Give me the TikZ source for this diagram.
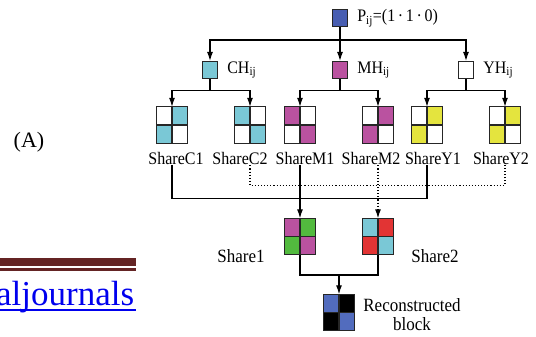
\documentclass[tikz,border=0pt]{standalone}
\usepackage{fontspec}
\setmainfont{Liberation Serif}
\usepackage{graphicx}
\usepackage{tikz}
\usetikzlibrary{arrows.meta,positioning}

\definecolor{cyanc}{RGB}{122,200,214}
\definecolor{magc}{RGB}{186,82,160}
\definecolor{yelc}{RGB}{228,228,62}
\definecolor{grnc}{RGB}{82,186,62}
\definecolor{redc}{RGB}{226,52,52}
\definecolor{bluc}{RGB}{82,108,190}
\definecolor{pblue}{RGB}{72,94,178}
\definecolor{barred}{RGB}{100,36,36}
\definecolor{linkblue}{RGB}{0,0,238}
\newcommand{\tall}[1]{\scalebox{1}[1.1]{#1}}

\begin{document}
\begin{tikzpicture}[x=1pt,y=-1pt,
 conn/.style={line width=1.1pt},
 arr/.style={conn,-{Latex[length=9pt,width=6pt]}},
 dots/.style={line width=1.1pt,dotted},
 pix/.style={draw=black!85,line width=1.2pt,minimum width=15pt,minimum height=17pt,inner sep=0pt},
 cellbox/.style={minimum width=31pt,minimum height=36pt,inner sep=0pt},
 lbl/.style={font=\fontsize{16}{19}\selectfont,inner sep=1pt},
 hlbl/.style={font=\fontsize{16}{19}\selectfont,inner sep=0pt}]
\useasboundingbox (0,0) rectangle (536,337);

% pixel and its three colour channels
\node[pix,fill=pblue] (P) at (340,18) {};
\node[hlbl,right=9pt of P] (Plbl) {\tall{P\textsubscript{ij}=(1\,·\,1\,·\,0)}};
\node[pix,fill=cyanc] (CH) at (210,70) {};
\node[pix,fill=magc] (MH) at (340,70) {};
\node[pix,fill=white] (YH) at (466,70) {};
\node[hlbl,right=9pt of CH] (CHlbl) {\tall{CH\textsubscript{ij}}};
\node[hlbl,right=9pt of MH] (MHlbl) {\tall{MH\textsubscript{ij}}};
\node[hlbl,right=9pt of YH] (YHlbl) {\tall{YH\textsubscript{ij}}};

% 2x2 share blocks
\foreach \n/\x/\y/\ca/\cb/\cc/\cd in {C1/172/125/white/cyanc/cyanc/white,
  C2/250/125/cyanc/white/white/cyanc, M1/300/125/magc/white/white/magc,
  M2/378/125/white/magc/magc/white, Y1/427/125/white/yelc/yelc/white,
  Y2/505/125/white/yelc/yelc/white, 1/300/236.5/magc/grnc/grnc/magc,
  2/378/236.5/cyanc/redc/redc/cyanc, R/339/312.5/bluc/black/black/bluc} {
 \node[cellbox] (g\n) at (\x,\y) {};
 \fill[\ca] (g\n.north west) rectangle (g\n.center);
 \fill[\cb] (g\n.north) rectangle (g\n.east);
 \fill[\cc] (g\n.west) rectangle (g\n.south);
 \fill[\cd] (g\n.center) rectangle (g\n.south east);
 \draw[black!85,line width=1.3pt] (g\n.north) -- (g\n.south) (g\n.west) -- (g\n.east)
   (g\n.north west) rectangle (g\n.south east);
}
\foreach \n/\x in {C1/176,C2/240,M1/305,M2/371,Y1/433,Y2/501}
 \node[lbl] (s\n) at (\x,158) {\tall{Share\n}};
\node[lbl,font=\fontsize{17}{20}\selectfont] (s1) at (241,256) {\tall{Share1}};
\node[lbl,font=\fontsize{17}{20}\selectfont] (s2) at (435,256) {\tall{Share2}};
\node[lbl,align=center,font=\fontsize{17}{19}\selectfont] (sR) at (412,315) {\tall{Reconstructed}\\\tall{block}};

% split into channels
\coordinate (jP) at (340,40);
\draw[conn] (P.south) -- (jP);
\draw[arr] (jP) -- (MH.north);
\draw[arr] (jP) -| (CH.north);
\draw[arr] (jP) -| (YH.north);
\foreach \h/\a/\b in {CH/C1/C2,MH/M1/M2,YH/Y1/Y2} {
 \draw[conn] (\h.south) -- ++(0,11) coordinate (j\h);
 \draw[arr] (j\h) -| (g\a.north);
 \draw[arr] (j\h) -| (g\b.north);
}

% stacking into the two shares
\draw[dots] (gC2 |- sC2.south) -- ++(0,20) -| (gY2 |- sY2.south);
\draw[conn] (gC1 |- sC1.south) -- ++(0,33) -| (gY1 |- sY1.south);
\draw[arr] (gM1 |- sM1.south) -- (g1.north);
\draw[arr,dotted] (gM2 |- sM2.south) -- (g2.north);

% overlaying
\coordinate (jR) at (339,275);
\draw[conn] (g1.south) |- (jR) -| (g2.south);
\draw[arr] (jR) -- (gR.north);

\node[font=\fontsize{22}{26}\selectfont,inner sep=0pt] (A) at (29,142) {(A)};

% page fragment at the left edge
\fill[barred] (0,258) rectangle (136,266);
\fill[barred] (0,268) rectangle (136,270.5);
\node[font=\fontsize{35}{40}\selectfont,text=linkblue,anchor=base west,inner sep=0pt] (lnk) at (-4,305) {aljournals};
\draw[linkblue,line width=2pt] (0,309.5) -- (136,309.5);
\end{tikzpicture}
\end{document}
